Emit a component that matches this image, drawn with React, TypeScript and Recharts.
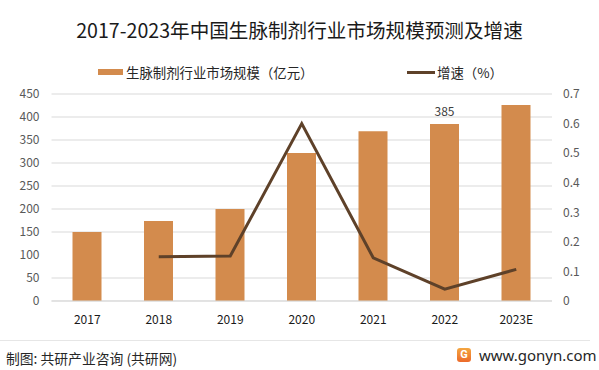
import {
  ComposedChart,
  Bar,
  Line,
  XAxis,
  YAxis,
  CartesianGrid,
  LabelList,
} from "recharts";

const years = ["2017", "2018", "2019", "2020", "2021", "2022", "2023E"];
const marketSize = [150, 174, 200, 322, 369, 385, 426];
const growthRate = [null, 0.15, 0.152, 0.6, 0.146, 0.04, 0.107];
const sizeLabels = ["", "", "", "", "", "385", ""];

const leftTicks = [0, 50, 100, 150, 200, 250, 300, 350, 400, 450];
const rightTicks = [0, 0.1, 0.2, 0.3, 0.4, 0.5, 0.6, 0.7];

const data = years.map((year, i) => ({
  year,
  size: marketSize[i],
  growth: growthRate[i],
  label: sizeLabels[i],
}));

const FONT = '"Noto Sans CJK SC", "Noto Sans", sans-serif';
const BAR_COLOR = "#D38B4D";
const LINE_COLOR = "#5E4129";

export default function App() {
  return (
    <div
      style={{
        position: "absolute",
        left: 0,
        top: 0,
        width: 599,
        height: 370,
        background: "#fff",
        fontFamily: FONT,
        overflow: "hidden",
      }}
    >
      <div
        style={{
          position: "absolute",
          top: 16,
          left: 0,
          width: 599,
          textAlign: "center",
          fontSize: 19.6,
          lineHeight: "28px",
          color: "#1a1a1a",
        }}
      >
        2017-2023年中国生脉制剂行业市场规模预测及增速
      </div>

      {/* legend */}
      <div style={{ position: "absolute", left: 98, top: 69, width: 25, height: 6, background: BAR_COLOR }} />
      <div style={{ position: "absolute", left: 126, top: 63, fontSize: 13.4, lineHeight: "18px", color: "#262626" }}>
        生脉制剂行业市场规模（亿元）
      </div>
      <div style={{ position: "absolute", left: 407, top: 71, width: 28, height: 3, background: LINE_COLOR }} />
      <div style={{ position: "absolute", left: 437, top: 63, fontSize: 13.4, lineHeight: "18px", color: "#262626" }}>
        增速（%）
      </div>

      <div style={{ position: "absolute", left: 0, top: 0 }}>
        <ComposedChart
          width={599}
          height={370}
          data={data}
          margin={{ top: 94, right: 0, bottom: 39, left: 0 }}
        >
          <CartesianGrid vertical={false} stroke="#d9d9d9" horizontalValues={leftTicks} yAxisId="left" />
          <XAxis
            dataKey="year"
            height={30}
            tickLine={false}
            tickSize={0}
            tickMargin={14}
            axisLine={{ stroke: "#d9d9d9" }}
            tick={{ fontSize: 12, fill: "#1a1a1a", fontFamily: FONT }}
          />
          <YAxis
            yAxisId="left"
            width={51.5}
            domain={[0, 450]}
            ticks={leftTicks}
            axisLine={false}
            tickLine={false}
            tickSize={0}
            tickMargin={12}
            tick={{ fontSize: 12, fill: "#595959", fontFamily: FONT }}
          />
          <YAxis
            yAxisId="right"
            orientation="right"
            width={47}
            domain={[0, 0.7]}
            ticks={rightTicks}
            axisLine={false}
            tickLine={false}
            tickSize={0}
            tickMargin={11}
            tick={{ fontSize: 12, fill: "#595959", fontFamily: FONT }}
          />
          <Bar yAxisId="left" dataKey="size" fill={BAR_COLOR} barSize={29} isAnimationActive={false}>
            <LabelList
              dataKey="label"
              position="top"
              offset={8}
              style={{ fontSize: 12, fill: "#404040", fontFamily: FONT }}
            />
          </Bar>
          <Line
            yAxisId="right"
            dataKey="growth"
            type="linear"
            stroke={LINE_COLOR}
            strokeWidth={3}
            dot={false}
            activeDot={false}
            isAnimationActive={false}
          />
        </ComposedChart>
      </div>

      {/* footer */}
      <div style={{ position: "absolute", left: 0, top: 340, width: 590, height: 1, background: "#e6e6e6" }} />
      <div style={{ position: "absolute", left: 6, top: 348, fontSize: 13.8, lineHeight: "20px", color: "#262626" }}>
        制图: 共研产业咨询 (共研网)
      </div>
      <div
        style={{
          position: "absolute",
          left: 457,
          top: 348,
          width: 14,
          height: 14,
          borderRadius: 3,
          background: "linear-gradient(180deg, #f4a640, #ec6a2a)",
          color: "#fff",
          fontSize: 11,
          fontWeight: 700,
          lineHeight: "14px",
          textAlign: "center",
          fontFamily: "Roboto, sans-serif",
        }}
      >
        G
      </div>
      <div
        style={{
          position: "absolute",
          left: 479,
          top: 345,
          fontSize: 15,
          lineHeight: "20px",
          color: "#262626",
          fontFamily: '"Noto Sans", sans-serif',
        }}
      >
        www.gonyn.com
      </div>
    </div>
  );
}
